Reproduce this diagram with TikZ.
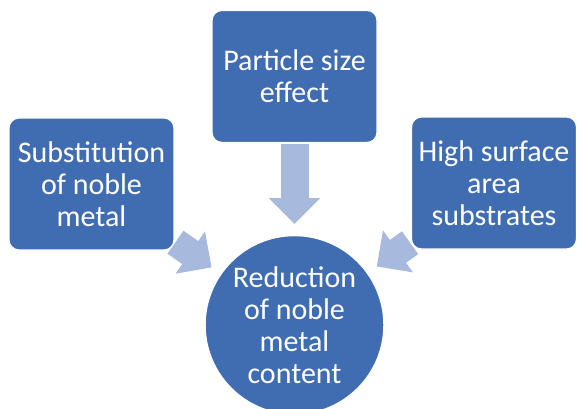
\documentclass[tikz,border=0pt]{standalone}
\usepackage{fontspec}
\setmainfont{Carlito}
\usetikzlibrary{positioning}
\usetikzlibrary{arrows.meta}
\usetikzlibrary{backgrounds}

\definecolor{boxblue}{RGB}{64,108,178}
\definecolor{arrowblue}{RGB}{167,185,220}

\begin{document}
\begin{tikzpicture}[x=1pt,y=1pt]

\def\BoxWidth{165pt}
\def\BoxHeight{132pt}
\def\Spacing{92pt}

% Styles
\tikzstyle{box} =
	[text=white, align=center, font=\fontsize{30}{32}\selectfont]

\tikzstyle{module} =
	[box, fill=boxblue, draw=white, line width=1.2pt, rounded corners=10pt,
	 minimum width=\BoxWidth, minimum height=\BoxHeight]

\tikzstyle{goal} =
	[box, circle, fill=boxblue, draw=white, line width=1.2pt, minimum size=175pt]

\tikzstyle{flow} =
	[arrowblue, line width=28pt, -{Triangle[width=50pt,length=26pt]},
	 shorten >=11pt, shorten <=1pt]

\useasboundingbox (0,0) rectangle (577,408);
\clip (0,0) rectangle (577,408);

% Modules

\node (Reduction) at (294.5,83) [goal] {Reduction\\of noble\\metal\\content};
\node (ParticleSize) [module, above=\Spacing of Reduction] {Particle size\\effect};
\node (Substitution) at (91.5,224) [module] {Substitution\\of noble\\metal};
\node (Substrates) at (494,225) [module] {High surface\\area\\substrates};

% Edges

\begin{scope}[on background layer]
\draw[flow] (ParticleSize) -- (Reduction);
\draw[flow] (Substitution) -- (Reduction);
\draw[flow] (Substrates) -- (Reduction);
\end{scope}

\end{tikzpicture}
\end{document}
